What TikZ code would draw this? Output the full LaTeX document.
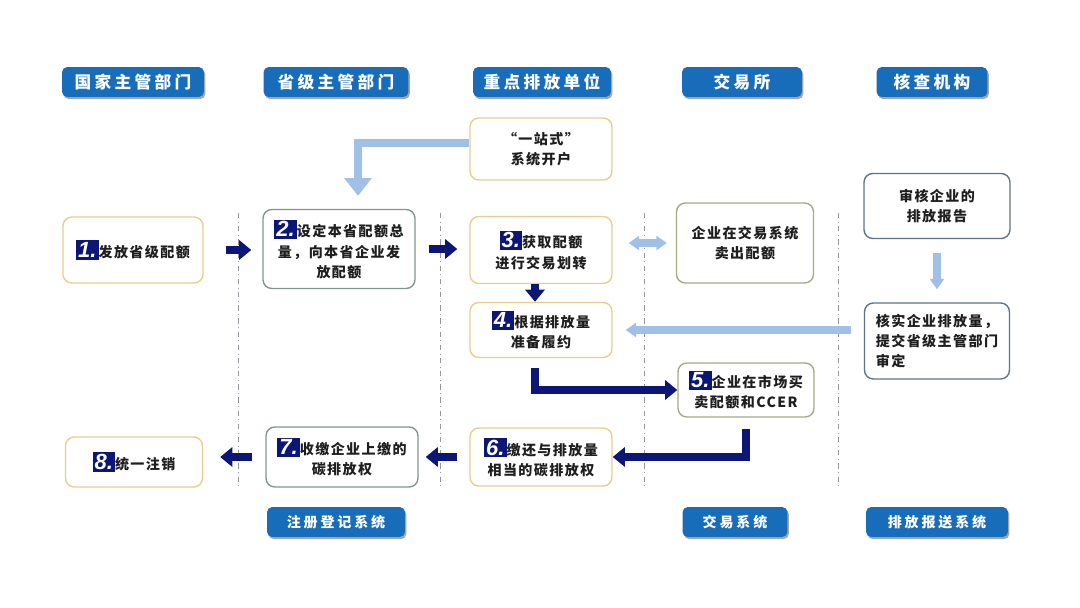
\documentclass[tikz,border=0pt]{standalone}
\usepackage{fontspec}
\setmainfont{Noto Sans CJK SC}
\newfontfamily\boxfont[LetterSpace=10]{Noto Sans CJK SC}
\newfontfamily\headfont[LetterSpace=20]{Noto Sans CJK SC}
\newfontfamily\numfont{Liberation Sans}
\usetikzlibrary{arrows.meta}
\usetikzlibrary{shadows}

\definecolor{headblue}{RGB}{23,109,185}
\definecolor{stepnavy}{RGB}{12,22,118}
\definecolor{lightblue}{RGB}{160,192,232}
\definecolor{boxyellow}{RGB}{232,205,140}
\definecolor{boxsage}{RGB}{130,150,140}
\definecolor{boxolive}{RGB}{165,170,130}
\definecolor{boxsteel}{RGB}{95,115,135}
\definecolor{dividergray}{RGB}{150,150,160}
\definecolor{textdark}{RGB}{30,30,30}

\newcommand{\stepno}[1]{{\setlength{\fboxsep}{1.2pt}\colorbox{stepnavy}{\textcolor{white}{\numfont\bfseries\itshape\fontsize{12.5}{13}\selectfont #1.}}}}

\begin{document}
\begin{tikzpicture}[x=0.02cm, y=-0.02cm,
            headnode/.style={fill=headblue, text=white, rounded corners=3pt, minimum height=0.6cm,
                font=\headfont\bfseries\fontsize{9.5}{11}\selectfont,
                drop shadow={shadow xshift=0.8pt, shadow yshift=-1.2pt, fill=black, opacity=0.35}},
            footnode/.style={headnode, font=\headfont\bfseries\fontsize{8}{10}\selectfont},
            stepbox/.style={draw, fill=white, rounded corners=5pt, line width=0.8pt, align=center,
                text=textdark, inner sep=2pt, font=\boxfont\bfseries\fontsize{8}{11.4}\selectfont},
            divider/.style={color=dividergray, line width=0.5pt, dash dot},
            darkarrow/.style={draw=stepnavy, line width=4pt, -{Triangle[width=11pt,length=7pt]}},
            lightarrow/.style={draw=lightblue, line width=4pt, -{Triangle[width=8pt,length=6pt]}}
        ]
            \useasboundingbox (0,0) rectangle (1080,608);

            % column heads
            \node[headnode, minimum width=2.84cm] (hnation) at (133, 82) {国家主管部门};
            \node[headnode, minimum width=2.9cm] (hprovince) at (336, 82) {省级主管部门};
            \node[headnode, minimum width=2.76cm] (hemitter) at (542, 82) {重点排放单位};
            \node[headnode, minimum width=2.4cm] (hexchange) at (742, 82) {交易所};
            \node[headnode, minimum width=2.22cm] (hverifier) at (932, 82) {核查机构};

            % dividers
            \foreach \x in {238, 440, 644, 838}{
                \draw[divider] (\x, 213) -- (\x, 487);
            }

            % steps
            \node[stepbox, draw=boxyellow, minimum width=2.84cm, minimum height=1.24cm] (kaihu) at (541, 149) {“一站式”\\系统开户};
            \node[stepbox, draw=boxyellow, minimum width=2.8cm, minimum height=1.32cm] (issue) at (133, 250) {\stepno{1}发放省级配额};
            \node[stepbox, draw=boxsage, minimum width=3.04cm, minimum height=1.58cm] (setcap) at (339, 249) {\stepno{2}设定本省配额总\\量，向本省企业发\\放配额};
            \node[stepbox, draw=boxyellow, minimum width=2.84cm, minimum height=1.34cm] (obtain) at (541, 250) {\stepno{3}获取配额\\进行交易划转};
            \node[stepbox, draw=boxolive, minimum width=2.74cm, minimum height=1.6cm] (sell) at (745, 243) {企业在交易系统\\卖出配额};
            \node[stepbox, draw=boxsteel, minimum width=2.92cm, minimum height=1.3cm] (audit) at (937, 206) {审核企业的\\排放报告};
            \node[stepbox, draw=boxyellow, minimum width=2.84cm, minimum height=1.1cm] (prepare) at (541, 330) {\stepno{4}根据排放量\\准备履约};
            \node[stepbox, draw=boxsteel, minimum width=2.9cm, minimum height=1.52cm, align=left] (verify) at (937, 341) {核实企业排放量，\\提交省级主管部门\\审定};
            \node[stepbox, draw=boxolive, minimum width=2.72cm, minimum height=1.08cm] (trade) at (746, 390) {\stepno{5}企业在市场买\\卖配额和CCER};
            \node[stepbox, draw=boxyellow, minimum width=2.84cm, minimum height=1.16cm] (surrender) at (541, 457) {\stepno{6}缴还与排放量\\相当的碳排放权};
            \node[stepbox, draw=boxsage, minimum width=3.04cm, minimum height=1.2cm] (collect) at (342, 457) {\stepno{7}收缴企业上缴的\\碳排放权};
            \node[stepbox, draw=boxyellow, minimum width=2.74cm, minimum height=1.0cm] (cancel) at (134, 462) {\stepno{8}统一注销};

            % systems (bottom)
            \node[footnode, minimum width=2.76cm] (fregistry) at (336, 522) {注册登记系统};
            \node[footnode, minimum width=2.1cm] (ftrade) at (735, 522) {交易系统};
            \node[footnode, minimum width=2.84cm] (freport) at (937, 522) {排放报送系统};

            % main flow
            \draw[darkarrow, shorten <=0.44cm, shorten >=0.22cm] (issue.east) -- (issue.east -| setcap.west);
            \draw[darkarrow, shorten <=0.26cm, shorten >=0.24cm] (setcap.east) -- (setcap.east -| obtain.west);
            \draw[darkarrow] ([xshift=-0.12cm]obtain.south) -- ([xshift=-0.12cm]prepare.north);
            \draw[darkarrow, shorten <=0.2cm] ([xshift=-0.12cm]prepare.south) |- (trade.west);
            \draw[darkarrow, shorten <=0.22cm] (trade.south) |- (surrender.east);
            \draw[darkarrow, shorten <=0.24cm, shorten >=0.14cm] (surrender.west) -- (surrender.west -| collect.east);
            \draw[darkarrow, shorten <=0.26cm, shorten >=0.34cm] (collect.west) -- (collect.west -| cancel.east);

            % side flow
            \draw[lightarrow, -{Triangle[width=15pt,length=10pt]}, shorten >=0.26cm] ([yshift=0.12cm]kaihu.west) -| ([xshift=0.38cm]setcap.north);
            \draw[lightarrow, {Triangle[width=8pt,length=6pt]}-{Triangle[width=8pt,length=6pt]}, shorten <=0.32cm, shorten >=0.18cm] (sell.west -| obtain.east) -- (sell.west);
            \draw[lightarrow, shorten <=0.28cm, shorten >=0.26cm] (audit.south) -- (verify.north);
            \draw[lightarrow, shorten <=0.26cm, shorten >=0.26cm] (verify.west |- prepare.east) -- (prepare.east);

        \end{tikzpicture}
\end{document}
